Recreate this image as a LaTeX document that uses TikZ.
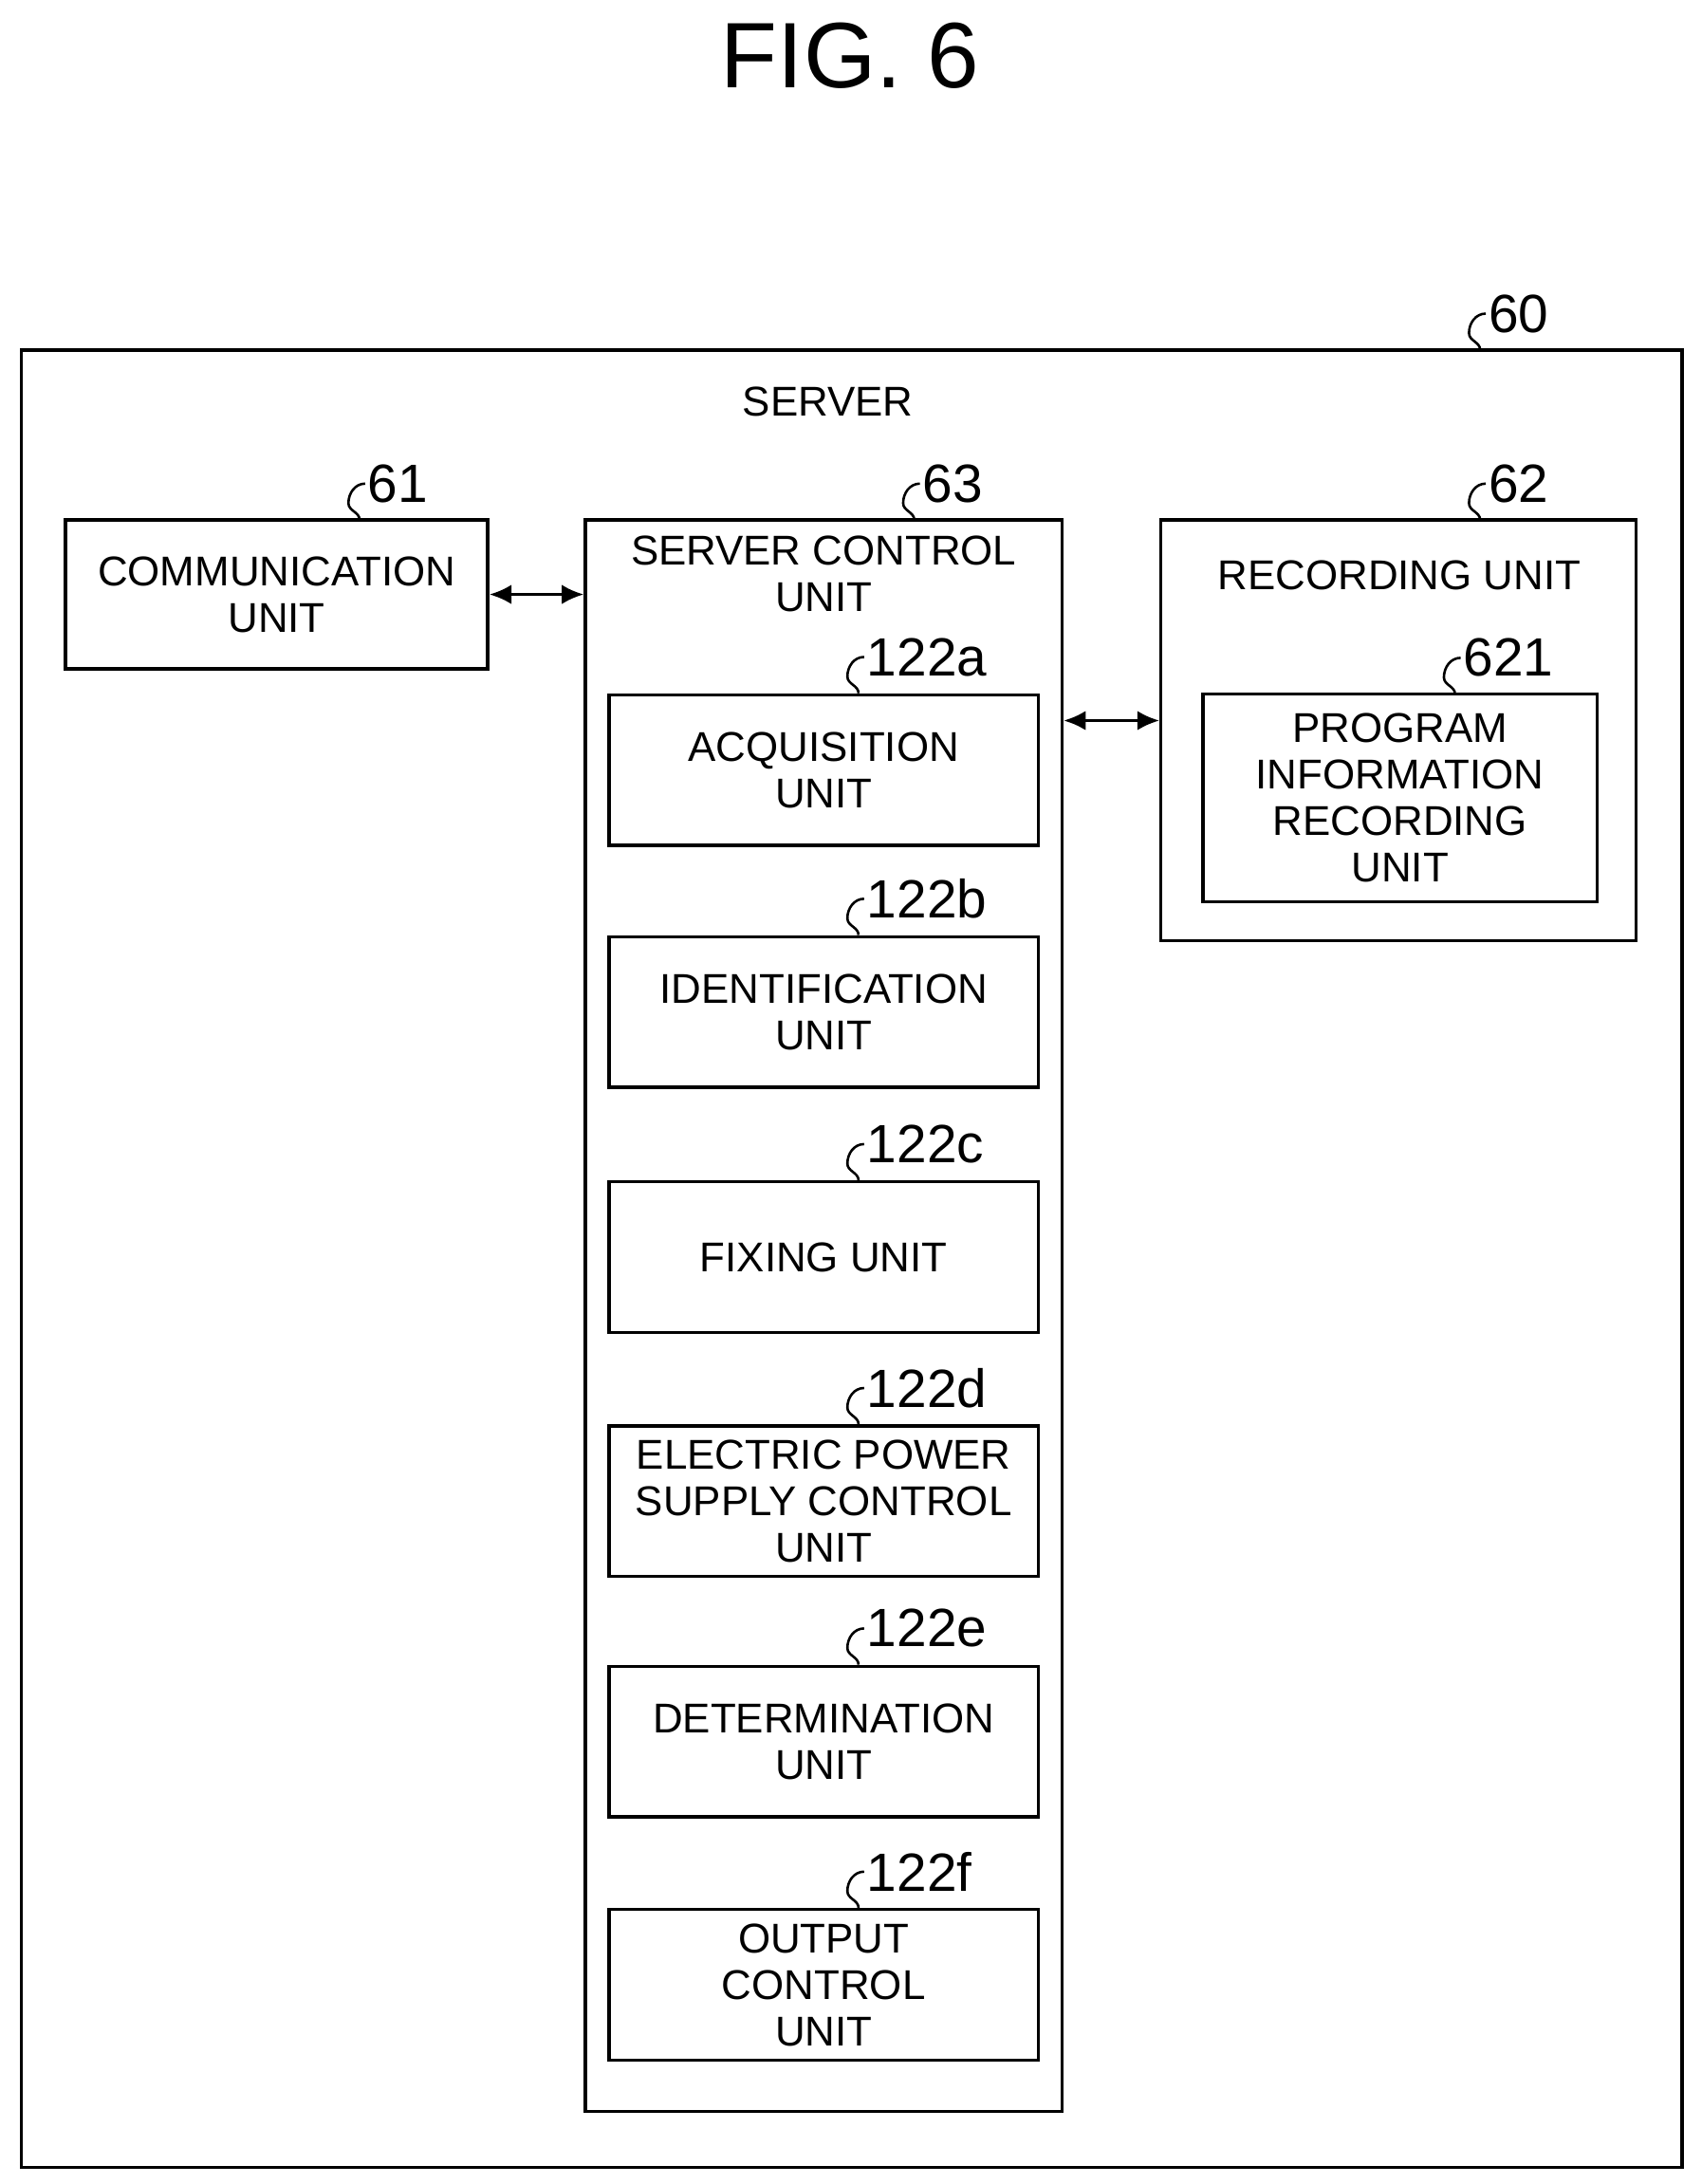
\documentclass[tikz,border=0pt]{standalone}
\usepackage{fontspec}
\setmainfont{Liberation Sans}
\usetikzlibrary{arrows.meta}
\tikzset{
  box/.style={draw, line width=1.3pt, inner sep=0pt},
  unit/.style={box, minimum width=6.16cm, minimum height=2.16cm},
  txt/.style={align=center, font=\fontsize{17}{19}\selectfont},
  refnum/.style={anchor=west, inner sep=1pt, font=\fontsize{22}{24}\selectfont},
  link/.style={line width=1.3pt, {Latex[length=9pt,width=8pt]}-{Latex[length=9pt,width=8pt]}}
}
% leader squiggle from a box top to its reference numeral
\newcommand{\leader}[3]{%
  \draw[line width=1pt] (#1) to[out=90,in=-90] ++(-8,-12) to[out=90,in=180] ++(12,-14) coordinate (#2-end);
  \node[refnum] (#2) at (#2-end) {#3};}
\begin{document}
\begin{tikzpicture}[x=0.02cm, y=-0.02cm]
  \useasboundingbox (0,0) rectangle (1221,1567);
  \node[font=\fontsize{38}{40}\selectfont] (fig) at (610,40) {FIG. 6};

  % server frame
  \node[box, minimum width=23.84cm, minimum height=26.08cm] (server) at (611,903) {};
  \node[txt] (serverlbl) at (594,288) {SERVER};
  \coordinate (p60) at (1062,251);
  \leader{p60}{n60}{60}

  % communication unit
  \node[box, minimum width=6.06cm, minimum height=2.14cm] (comm) at (198.5,426.5) {};
  \node[txt] at (comm) {COMMUNICATION\\UNIT};
  \coordinate (p61) at (258,373);
  \leader{p61}{n61}{61}

  % server control unit
  \node[box, minimum width=6.84cm, minimum height=22.84cm] (ctrl) at (591,944) {};
  \node[txt] (ctrllbl) at (591,412) {SERVER CONTROL\\UNIT};
  \coordinate (p63) at (656,373);
  \leader{p63}{n63}{63}

  \node[unit] (acq) at (591,552.5) {};
  \node[txt] at (acq) {ACQUISITION\\UNIT};
  \node[unit] (ident) at (591,726) {};
  \node[txt] at (ident) {IDENTIFICATION\\UNIT};
  \node[unit] (fix) at (591,902) {};
  \node[txt] at (fix) {FIXING UNIT};
  \node[unit] (power) at (591,1077) {};
  \node[txt] at (power) {ELECTRIC POWER\\SUPPLY CONTROL\\UNIT};
  \node[unit] (determ) at (591,1249.5) {};
  \node[txt] at (determ) {DETERMINATION\\UNIT};
  \node[unit] (outctl) at (591,1424) {};
  \node[txt] at (outctl) {OUTPUT\\CONTROL\\UNIT};
  \foreach \b/\s in {acq/a, ident/b, fix/c, power/d, determ/e, outctl/f}{
    \coordinate (p\s) at ([xshift=0.5cm]\b.north);
    \leader{p\s}{n\s}{122\s}
  }

  % recording unit
  \node[box, minimum width=6.82cm, minimum height=6.04cm] (rec) at (1003.5,524) {};
  \node[txt] (reclbl) at (1004,413) {RECORDING UNIT};
  \coordinate (p62) at (1062,373);
  \leader{p62}{n62}{62}
  \node[box, minimum width=5.66cm, minimum height=2.98cm] (prog) at (1004.5,572.5) {};
  \node[txt] at (prog) {PROGRAM\\INFORMATION\\RECORDING\\UNIT};
  \coordinate (p621) at (1044,498);
  \leader{p621}{n621}{621}

  % links
  \draw[link] (comm.east) -- (comm.east -| ctrl.west);
  \draw[link] (ctrl.east |- 0,517) -- (rec.west |- 0,517);
\end{tikzpicture}
\end{document}
